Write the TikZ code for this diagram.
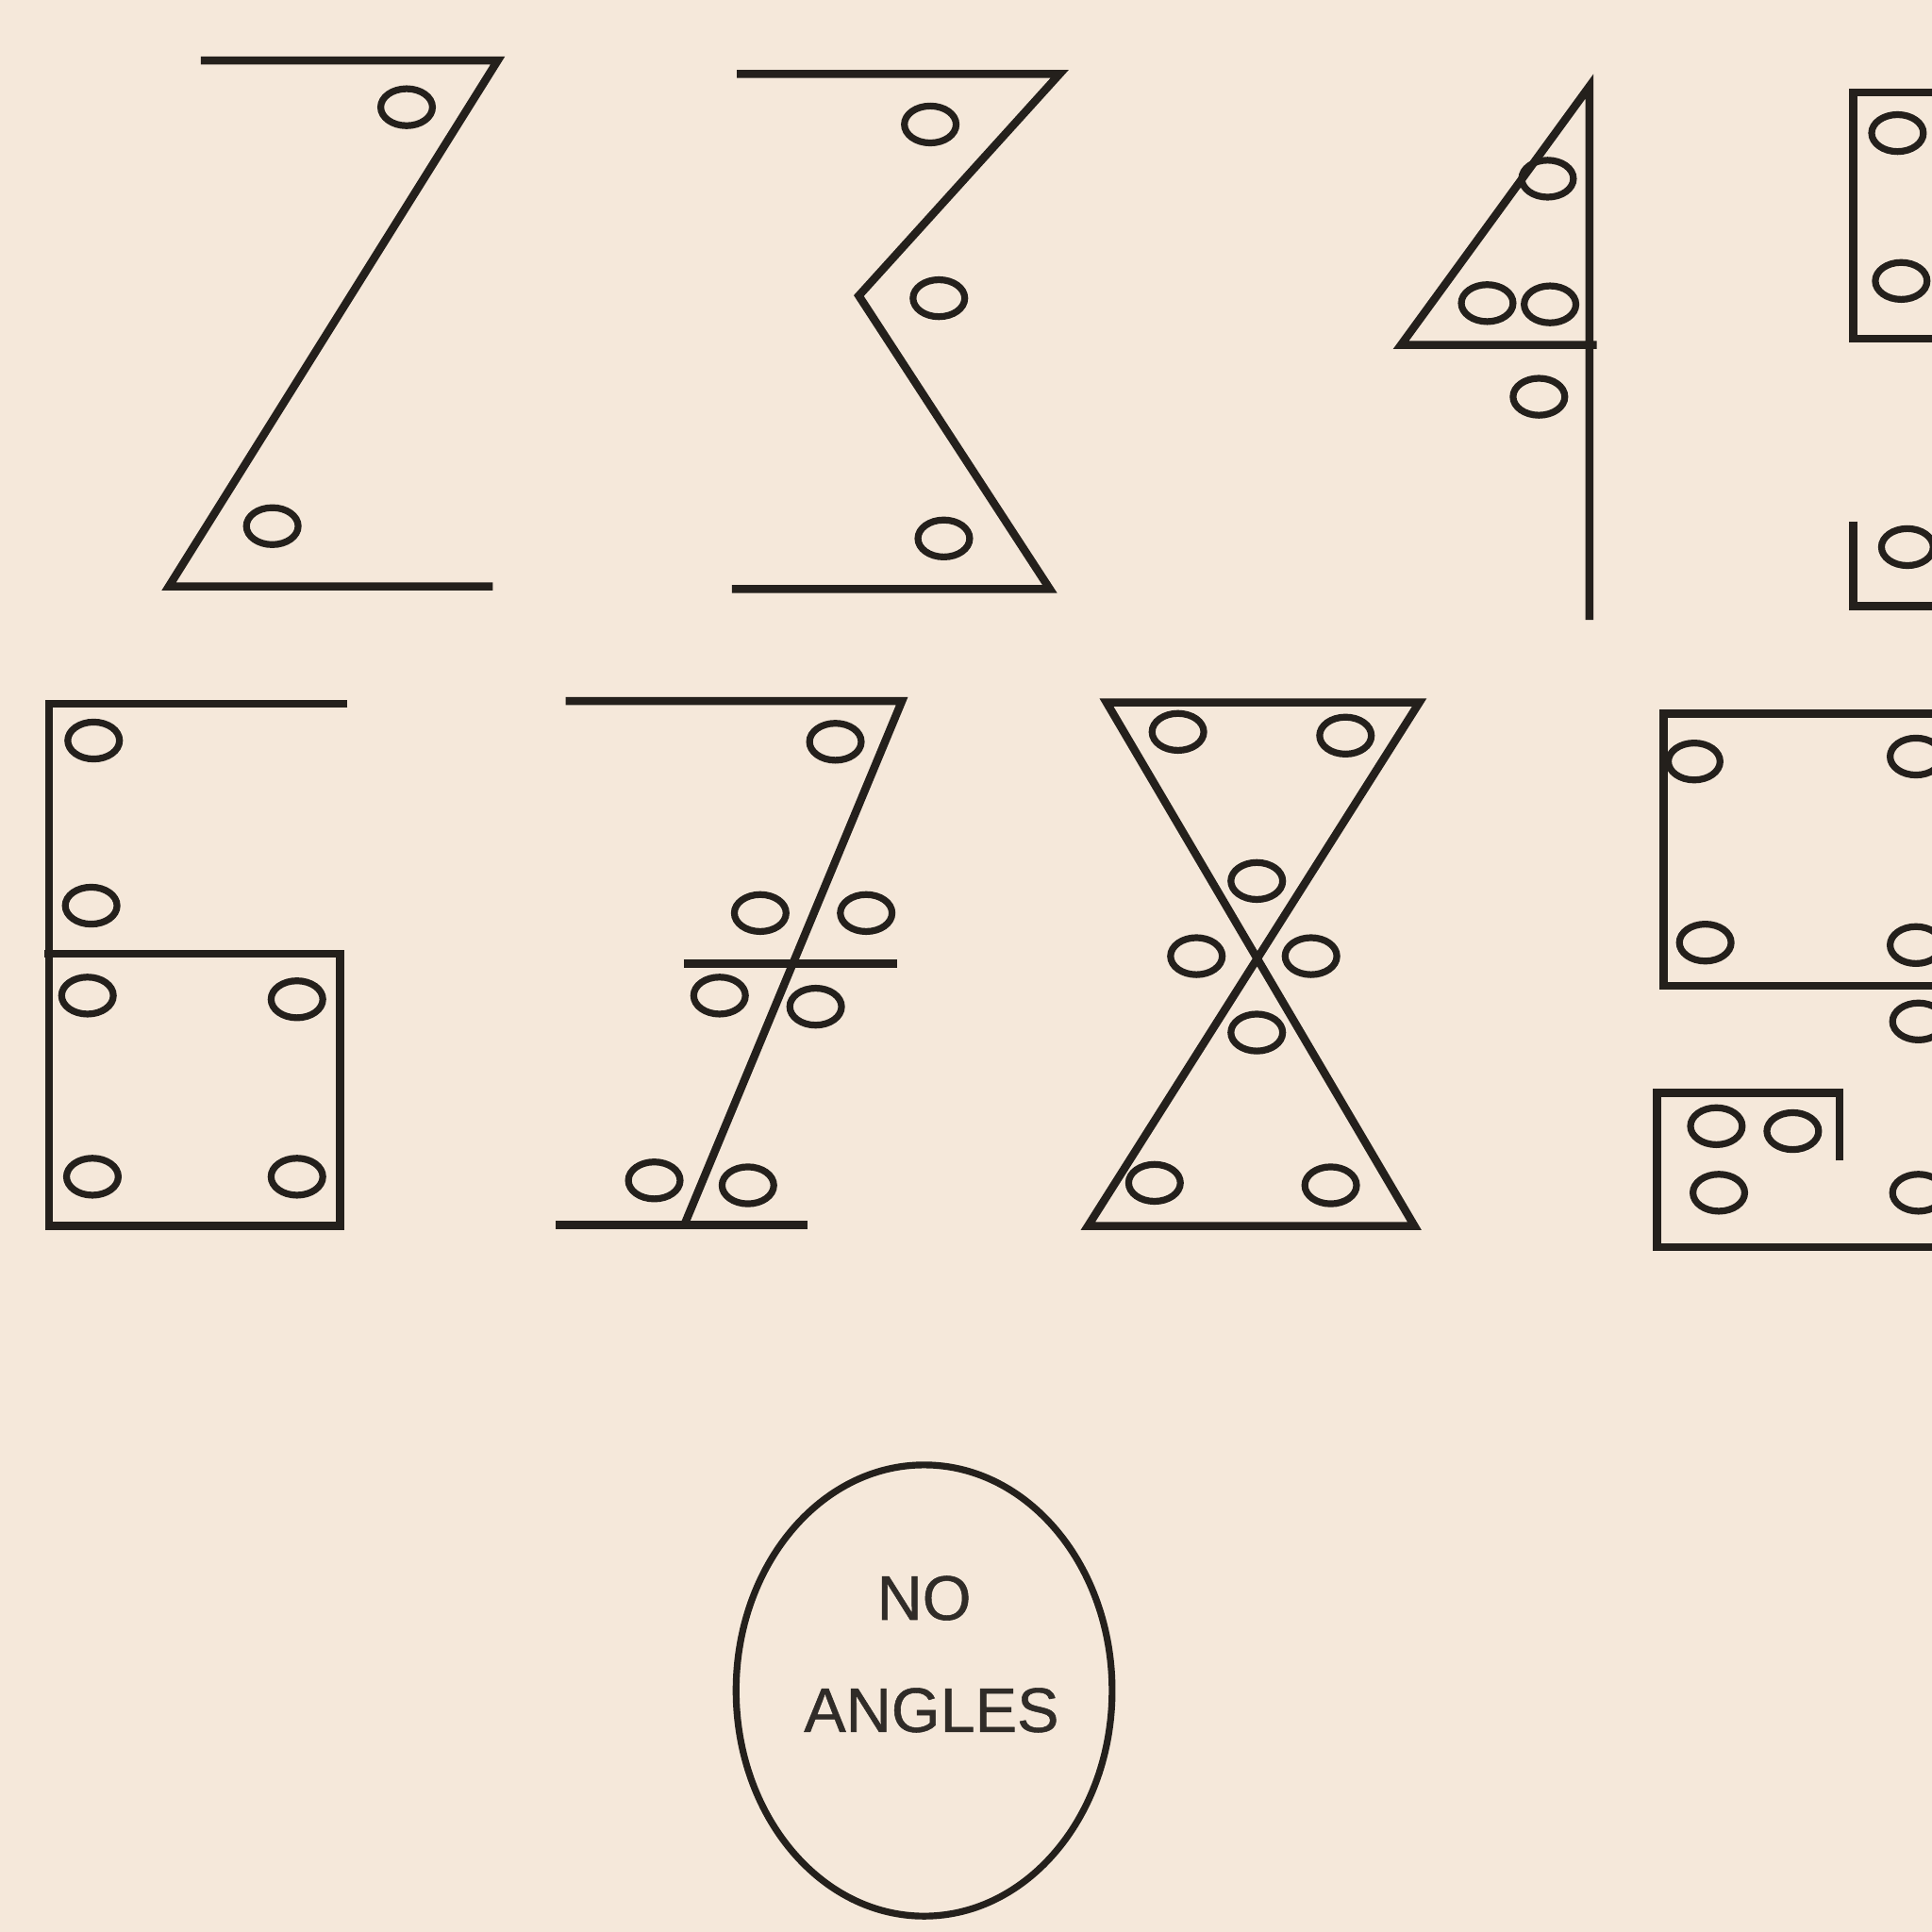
\documentclass[tikz,border=0pt]{standalone}
\usepackage{fontspec}
\usetikzlibrary{shapes.geometric}
\setmainfont{Liberation Sans}
\newfontfamily\lblfont[FakeBold=0.8]{Liberation Sans}
\definecolor{bg}{RGB}{245,232,218}
\definecolor{ink}{RGB}{36,32,28}
\definecolor{txt}{RGB}{48,44,40}
\begin{document}
\begin{tikzpicture}[x=0.01cm,y=-0.01cm,
  ln/.style={draw=ink, line width=0.065cm, line join=miter},
  dotring/.style={draw=ink, line width=0.055cm}]
\useasboundingbox (0,0) rectangle (1568,1568);
\fill[bg] (0,0) rectangle (1568,1568);
\begin{scope}
\clip (0,0) rectangle (1568,1568);
% digit 2
\draw[ln] (163,49) -- (404,49) -- (137,476) -- (400,476);
\foreach \p in {(330,87),(221,427)} \draw[dotring] \p ellipse [x radius=21, y radius=15];
% digit 3
\draw[ln] (598,60) -- (860,60) -- (697,240) -- (852,478) -- (594,478);
\foreach \p in {(755,101),(762,242),(766,437)} \draw[dotring] \p ellipse [x radius=21, y radius=15];
% digit 4
\draw[ln] (1290,503) -- (1290,70) -- (1137,280) -- (1296,280);
\foreach \p in {(1256,145),(1207,246),(1258,247),(1249,322)} \draw[dotring] \p ellipse [x radius=21, y radius=15];
% digit 5
\draw[ln] (1580,75) -- (1504,75) -- (1504,275) -- (1580,275);
\draw[ln] (1504,423) -- (1504,492) -- (1580,492);
\foreach \p in {(1540,108),(1543,228),(1548,444)} \draw[dotring] \p ellipse [x radius=21, y radius=15];
% digit 6
\draw[ln] (282,571) -- (40,571) -- (40,995) -- (276,995) -- (276,774) -- (36,774);
\foreach \p in {(76,601),(74,735),(71,808),(241,811),(75,955),(241,955)} \draw[dotring] \p ellipse [x radius=21, y radius=15];
% digit 7
\draw[ln] (459,569) -- (732,569) -- (555,995);
\draw[ln] (555,782) -- (728,782);
\draw[ln] (451,994) -- (655,994);
\foreach \p in {(678,602),(617,741),(703,741),(584,808),(662,817),(531,958),(607,962)} \draw[dotring] \p ellipse [x radius=21, y radius=15];
% digit 8
\draw[ln] (1152,570) -- (898,570) -- (1148,995) -- (883,995) -- cycle;
\foreach \p in {(956,594),(1092,597),(1020,715),(971,776),(1064,776),(1020,838),(937,960),(1080,962)} \draw[dotring] \p ellipse [x radius=21, y radius=15];
% digit 9
\draw[ln] (1580,579) -- (1350,579) -- (1350,800) -- (1580,800);
\draw[ln] (1493,942) -- (1493,887) -- (1345,887) -- (1345,1012) -- (1580,1012);
\foreach \p in {(1375,618),(1384,765),(1555,614),(1555,767),(1557,829),(1393,914),(1455,918),(1395,968),(1557,968)} \draw[dotring] \p ellipse [x radius=21, y radius=15];
% no angles
\node[draw=ink, line width=0.055cm, ellipse, minimum width=3.05cm, minimum height=3.66cm, inner sep=0pt] (zero) at (750,1372) {};
\node[text=txt, font=\lblfont\fontsize{14.5pt}{16pt}\selectfont] (no) at (750,1297) {NO};
\node[text=txt, font=\lblfont\fontsize{14.5pt}{16pt}\selectfont] (angles) at (756,1388) {ANGLES};
\end{scope}
\end{tikzpicture}
\end{document}
